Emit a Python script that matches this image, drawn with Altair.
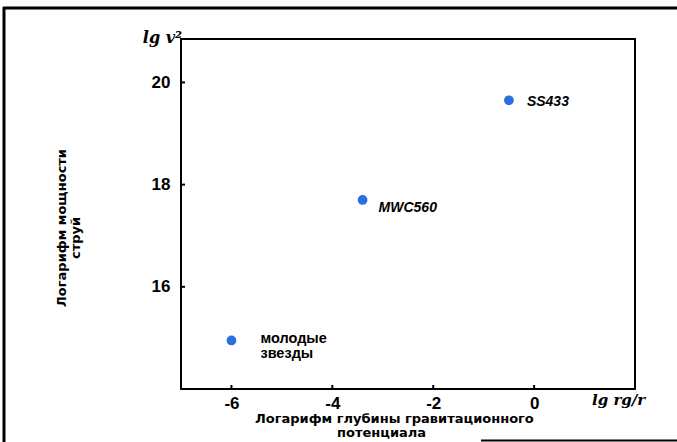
import altair as alt
import pandas as pd

# Objects on the diagram: jet power vs. depth of the gravitational potential
names = ["молодые\nзвезды", "MWC560", "SS433"]
lg_depth = [-6.0, -3.4, -0.5]
lg_power = [14.95, 17.7, 19.65]

x_ticks = [-6, -4, -2, 0]
y_ticks = [16, 18, 20]

x_title = ["Логарифм глубины гравитационного", "потенциала"]
y_title = ["Логарифм  мощности", "струй"]
x_unit = "lg rg/r"
y_unit = "lg v²"

W, H = 454, 350
PAD_L, PAD_T, PAD_R, PAD_B = 181, 39, 42, 53

df = pd.DataFrame({"name": names, "x": lg_depth, "y": lg_power})
one = pd.DataFrame({"k": [0]})

xs = alt.Scale(domain=[-7, 2], nice=False, zero=False)
ys = alt.Scale(domain=[14, 20.85], nice=False, zero=False)

x_enc = alt.X(
    "x:Q", scale=xs,
    axis=alt.Axis(values=x_ticks, tickSize=0, labelPadding=6, domain=False,
                  grid=False, title=None, labelFontSize=17,
                  labelFontWeight="bold",
                  labelFont="Liberation Sans", labelColor="black",
                  labelExpr="'' + datum.value"),
)
y_enc = alt.Y(
    "y:Q", scale=ys,
    axis=alt.Axis(values=y_ticks, tickSize=0, labelPadding=11, domain=False,
                  grid=False, title=None, labelFontSize=17,
                  labelFontWeight="bold",
                  labelFont="Liberation Sans", labelColor="black"),
)

base = alt.Chart(df)
points = base.mark_circle(size=95, color="#2a6ee0", opacity=1).encode(x=x_enc, y=y_enc)

label_font = "Liberation Sans"


def point_label(name, dx, dy, italic=True, size=14, line_h=14):
    return base.transform_filter(alt.datum.name == name).mark_text(
        align="left", baseline="middle", dx=dx, dy=dy, fontSize=size,
        fontWeight="bold", fontStyle="italic" if italic else "normal",
        font=label_font, color="black", lineBreak="\n", lineHeight=line_h,
    ).encode(x="x:Q", y="y:Q", text="name:N")


lab_ss = point_label("SS433", 18, 2)
lab_mwc = point_label("MWC560", 16, 8)
lab_young = point_label(names[0], 29, -1, italic=False, size=14.5, line_h=14.5)

# inward ticks on both axes
xt = alt.Chart(pd.DataFrame({"t": x_ticks})).mark_rule(color="black", strokeWidth=2).encode(
    x=alt.X("t:Q", scale=xs), y=alt.value(H), y2=alt.value(H - 4))
yt = alt.Chart(pd.DataFrame({"t": y_ticks})).mark_rule(color="black", strokeWidth=2).encode(
    y=alt.Y("t:Q", scale=ys), x=alt.value(0), x2=alt.value(4))

title_font = "DejaVu Sans"


def text_at(txt, x, y, align="left", angle=0, size=13, weight="bold",
            style="normal", font=title_font):
    kw = dict(align=align, baseline="alphabetic", fontSize=size,
              fontWeight=weight, fontStyle=style, font=font, color="black")
    if angle:
        kw["angle"] = angle
    return alt.Chart(one).mark_text(**kw).encode(
        x=alt.value(x), y=alt.value(y), text=alt.value(txt))


xt1 = text_at(x_title[0], 74, 384)
xt2 = text_at(x_title[1], 156, 398)
yt1 = text_at(y_title[0], -115, 189, align="center", angle=270)
yt2 = text_at(y_title[1], -101, 199, align="center", angle=270)
yu = text_at(y_unit, 1, 4, align="right", size=16, weight="bold",
             style="italic", font="DejaVu Serif")
xu = text_at(x_unit, 411, 366, size=15, weight="bold", style="italic",
             font="DejaVu Serif")

# page frame
frame_top = alt.Chart(one).mark_rule(color="black", strokeWidth=3).encode(
    x=alt.value(-178), x2=alt.value(W + PAD_R), y=alt.value(-31))
frame_left = alt.Chart(one).mark_rule(color="black", strokeWidth=3).encode(
    x=alt.value(-177), y=alt.value(-32), y2=alt.value(H + PAD_B))
frame_bottom = alt.Chart(one).mark_rule(color="black", strokeWidth=2).encode(
    x=alt.value(300), x2=alt.value(W + PAD_R), y=alt.value(H + PAD_B - 1.5))

chart = alt.layer(
    points, lab_ss, lab_mwc, lab_young, xt, yt,
    xt1, xt2, yt1, yt2, yu, xu, frame_top, frame_left, frame_bottom,
).properties(
    width=W, height=H,
    autosize=alt.AutoSizeParams(type="none"),
    padding={"left": PAD_L, "top": PAD_T, "right": PAD_R, "bottom": PAD_B},
    background="white",
).configure_view(stroke="black", strokeWidth=2)

chart.save("out.html", embed_options={"renderer": "svg", "actions": False})
